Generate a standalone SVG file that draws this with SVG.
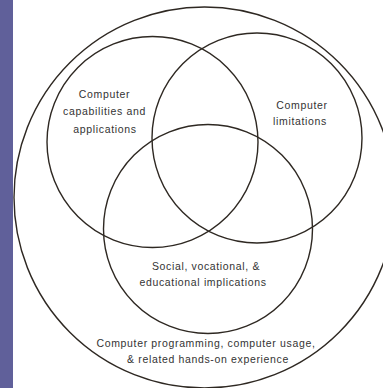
<svg xmlns="http://www.w3.org/2000/svg" width="383" height="388" viewBox="0 0 383 388">
<style>
.c{fill:none;stroke:#2e2822;stroke-width:1.4}
.t{font-family:"Liberation Sans",Arial,sans-serif;font-size:10.5px;fill:#333;text-anchor:middle;letter-spacing:0.65px}
</style>
<rect width="383" height="388" fill="#fff"/>
<rect x="0" y="0" width="13" height="388" fill="#60609a"/>
<g id="outer">
<circle class="c" cx="204.5" cy="197.5" r="190.5"/>
<text class="t" x="206" y="346.5">Computer programming, computer usage,</text>
<text class="t" x="208" y="363">&amp; related hands-on experience</text>
</g>
<g id="capabilities">
<circle class="c" cx="152.5" cy="142" r="105.5"/>
<text class="t" x="104.5" y="97.5">Computer</text>
<text class="t" x="104.5" y="115">capabilities and</text>
<text class="t" x="105" y="132.5">applications</text>
</g>
<g id="limitations">
<circle class="c" cx="257" cy="138" r="105"/>
<text class="t" x="302" y="108.5">Computer</text>
<text class="t" x="300" y="124.5">limitations</text>
</g>
<g id="implications">
<circle class="c" cx="208" cy="229" r="104.5"/>
<text class="t" x="206" y="269.5">Social, vocational, &amp;</text>
<text class="t" x="203" y="286">educational implications</text>
</g>
</svg>
